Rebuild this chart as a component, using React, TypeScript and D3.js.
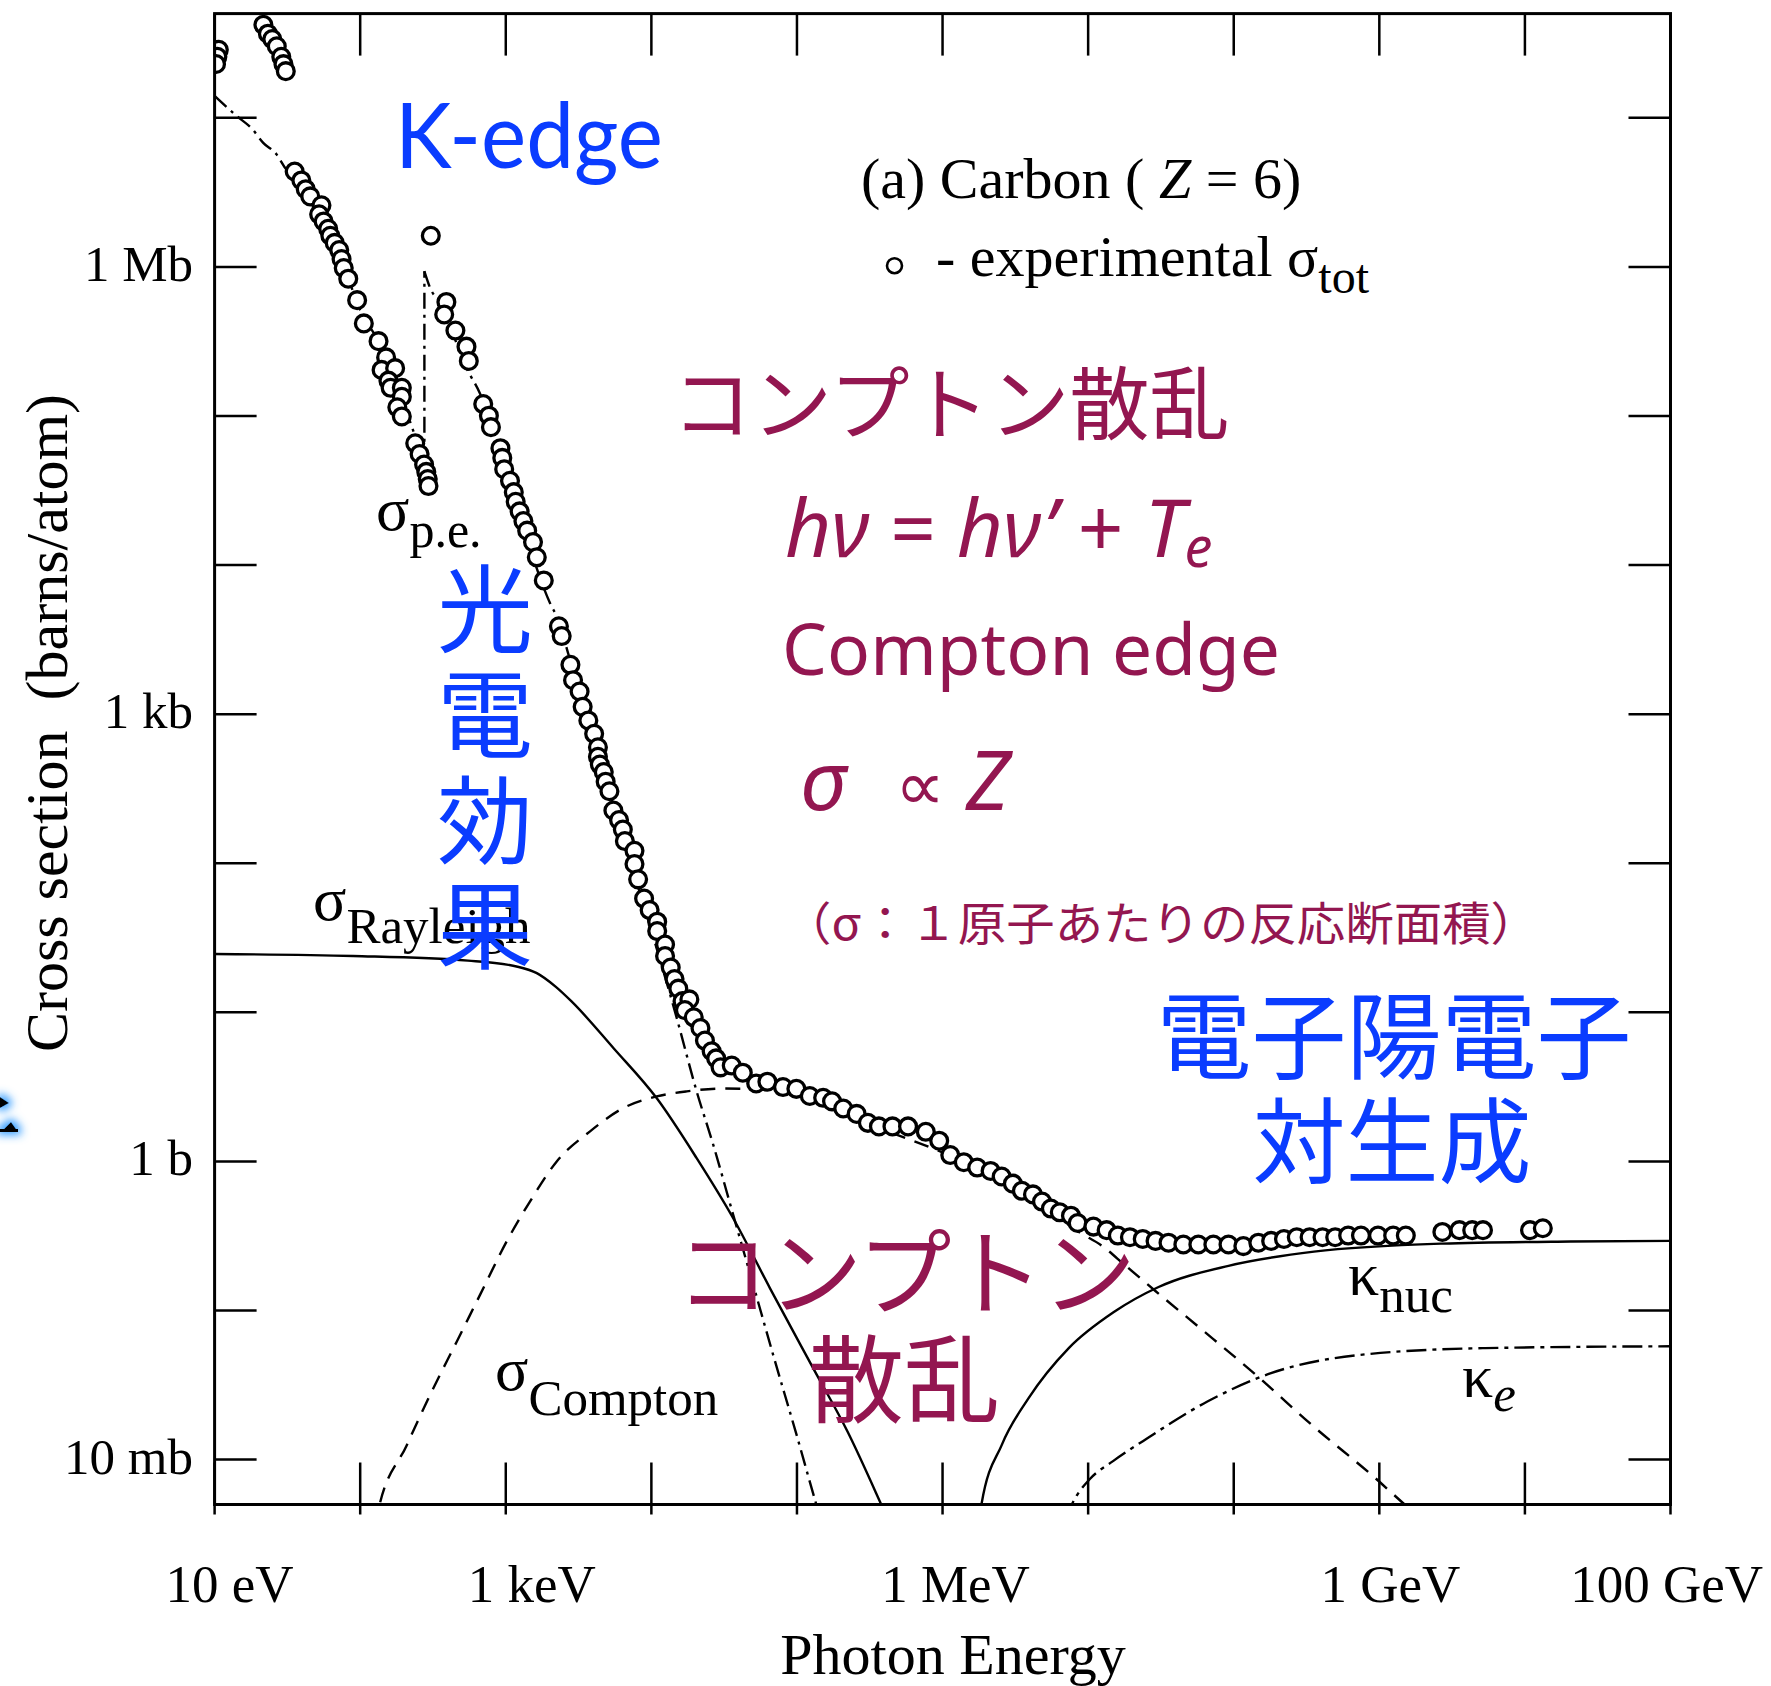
import React from 'react';
import * as d3 from 'd3';

// ---------- layout ----------
const W = 1771;
const H = 1686;
const PL = 214.6, PR = 1670.5, PT = 13.6, PB = 1504.5;
const X_LABEL_NUDGE = [15, 26, 13, 11, 0]; // horizontal offsets of the x tick labels, px

// ---------- axes ----------
const xDomain: [number, number] = [10, 1e11]; // photon energy, eV
const yDomain: [number, number] = [5e-3, 5e7]; // cross section, barns/atom
const xTickValues = [1e1, 1e2, 1e3, 1e4, 1e5, 1e6, 1e7, 1e8, 1e9, 1e10, 1e11];
const yTickValues = [1e-2, 1e-1, 1, 1e1, 1e2, 1e3, 1e4, 1e5, 1e6, 1e7];
const xTickLabels: [number, string][] = [[1e1, '10 eV'], [1e3, '1 keV'], [1e6, '1 MeV'], [1e9, '1 GeV'], [1e11, '100 GeV']];
const yTickLabels: [number, string][] = [[1e6, '1 Mb'], [1e3, '1 kb'], [1, '1 b'], [1e-2, '10 mb']];

// ---------- data: [log10(E / eV), log10(sigma / barn)] ----------
const experimental: [number, number][] = [
  [1.029, 7.456], [1.019, 7.409], [1.010, 7.361],
  [1.335, 7.624], [1.366, 7.564], [1.396, 7.528], [1.427, 7.480], [1.458, 7.409], [1.473, 7.360], [1.489, 7.313],
  [1.550, 6.640], [1.596, 6.580], [1.626, 6.521], [1.657, 6.473], [1.734, 6.413], [1.718, 6.353], [1.749, 6.305],
  [1.780, 6.256], [1.795, 6.209], [1.825, 6.161], [1.856, 6.113], [1.872, 6.053], [1.887, 5.992], [1.918, 5.921],
  [1.979, 5.777], [2.025, 5.621], [2.126, 5.502], [2.178, 5.393], [2.147, 5.309], [2.240, 5.321], [2.194, 5.237],
  [2.209, 5.189], [2.286, 5.189], [2.286, 5.129], [2.255, 5.058], [2.286, 4.997], [2.378, 4.817], [2.408, 4.745],
  [2.439, 4.674], [2.454, 4.625], [2.464, 4.577], [2.469, 4.530],
  [2.485, 6.209], [2.592, 5.765], [2.577, 5.681], [2.654, 5.573], [2.730, 5.465], [2.746, 5.369], [2.845, 5.080],
  [2.884, 5.002], [2.898, 4.925], [2.963, 4.784], [2.976, 4.719], [2.989, 4.643], [3.029, 4.565], [3.055, 4.489],
  [3.068, 4.424], [3.095, 4.360], [3.121, 4.295], [3.147, 4.231], [3.187, 4.154], [3.213, 4.052], [3.261, 3.897],
  [3.365, 3.589], [3.384, 3.524], [3.444, 3.331], [3.462, 3.228], [3.507, 3.152], [3.528, 3.049], [3.567, 2.958],
  [3.607, 2.868], [3.633, 2.778], [3.633, 2.714], [3.646, 2.662], [3.673, 2.612], [3.686, 2.547], [3.712, 2.483],
  [3.739, 2.354], [3.778, 2.290], [3.804, 2.226], [3.818, 2.149], [3.884, 2.084], [3.884, 1.995], [3.909, 1.892],
  [3.950, 1.763], [3.988, 1.686], [4.040, 1.608], [4.040, 1.545], [4.094, 1.455], [4.094, 1.378], [4.133, 1.300],
  [4.159, 1.223], [4.185, 1.159], [4.214, 1.075], [4.261, 1.087], [4.230, 1.015], [4.291, 0.967], [4.337, 0.895],
  [4.368, 0.811], [4.414, 0.739], [4.445, 0.691], [4.475, 0.631], [4.552, 0.643], [4.628, 0.595], [4.720, 0.523],
  [4.797, 0.535], [4.904, 0.499], [4.996, 0.487], [5.088, 0.439], [5.180, 0.427], [5.241, 0.403], [5.318, 0.355],
  [5.410, 0.319], [5.487, 0.259], [5.563, 0.235], [5.656, 0.235], [5.763, 0.235], [5.885, 0.199], [5.977, 0.139],
  [6.053, 0.043], [6.146, -0.005], [6.238, -0.041], [6.330, -0.064], [6.406, -0.101], [6.483, -0.149], [6.545, -0.197],
  [6.621, -0.221], [6.683, -0.269], [6.744, -0.316], [6.805, -0.341], [6.882, -0.364], [6.928, -0.413], [7.036, -0.437],
  [7.127, -0.461], [7.204, -0.497], [7.287, -0.508], [7.375, -0.520], [7.463, -0.533], [7.552, -0.545], [7.654, -0.557],
  [7.757, -0.557], [7.860, -0.557], [7.964, -0.557], [8.066, -0.568], [8.169, -0.545], [8.257, -0.533], [8.345, -0.520],
  [8.433, -0.508], [8.521, -0.508], [8.610, -0.508], [8.697, -0.508], [8.786, -0.497], [8.874, -0.497], [8.991, -0.497],
  [9.095, -0.497], [9.182, -0.497], [9.433, -0.473], [9.550, -0.461], [9.638, -0.461], [9.712, -0.461],
  [10.035, -0.461], [10.123, -0.448],
];

const photoLow: [number, number][] = [
  [1.0, 7.147], [1.151, 7.013], [1.256, 6.927], [1.334, 6.832], [1.427, 6.753], [1.481, 6.669], [1.551, 6.60],
  [1.70, 6.38], [1.853, 6.10], [2.0, 5.71], [2.125, 5.50], [2.280, 5.13], [2.441, 4.68],
];
const photoHigh: [number, number][] = [
  [2.441, 5.971], [2.485, 5.849], [2.546, 5.765], [2.730, 5.321], [2.822, 5.153], [3.056, 4.454], [3.305, 3.743],
  [3.357, 3.640], [3.436, 3.382], [3.793, 2.215], [4.174, 0.963], [4.311, 0.470], [4.425, 0.112], [4.562, -0.358],
  [4.700, -0.829], [4.837, -1.299], [4.998, -1.836], [5.135, -2.307], [5.17, -2.42],
];
const rayleigh: [number, number][] = [
  [1.0, 1.391], [1.951, 1.378], [2.740, 1.347], [3.081, 1.306], [3.213, 1.263], [3.344, 1.171], [3.45, 1.075],
  [3.739, 0.761], [4.036, 0.425], [4.311, 0.022], [4.562, -0.381], [4.815, -0.851], [5.112, -1.388], [5.348, -1.813],
  [5.585, -2.314], [5.62, -2.39],
];
const compton: [number, number][] = [
  [2.10, -2.45], [2.124, -2.340], [2.320, -1.903], [2.479, -1.568], [2.663, -1.209], [2.823, -0.895], [3.006, -0.537],
  [3.166, -0.269], [3.350, 0.0], [3.579, 0.202], [3.807, 0.358], [4.036, 0.436], [4.243, 0.470], [4.494, 0.489],
  [5.0, 0.47], [5.5, 0.25], [6.0, 0.06], [6.5, -0.17], [6.958, -0.486], [7.082, -0.557], [7.258, -0.700],
  [7.462, -0.869], [7.757, -1.108], [8.168, -1.445], [8.551, -1.780], [8.963, -2.116], [9.168, -2.296], [9.30, -2.41],
];
const kappaNuc: [number, number][] = [
  [6.24, -2.5], [6.268, -2.296], [6.407, -1.901], [6.591, -1.588], [6.867, -1.252], [7.174, -1.012], [7.480, -0.844],
  [7.964, -0.700], [8.551, -0.605], [9.430, -0.551], [10.314, -0.537], [11.003, -0.533],
];
const kappaE: [number, number][] = [
  [6.84, -2.40], [6.916, -2.250], [7.012, -2.130], [7.171, -2.01], [7.376, -1.876], [7.816, -1.612], [8.256, -1.420],
  [8.845, -1.300], [9.726, -1.252], [11.003, -1.240],
];

const MAROON = '#931650';
const BLUE = '#0a3cff';
const SERIF = '"Liberation Serif", "Times New Roman", serif';
const CJK = '"Noto Sans CJK JP", "Noto Sans CJK SC", sans-serif';
const SANS = "'Noto Sans', 'DejaVu Sans', sans-serif";

export default function App() {
  const x = d3.scaleLog().domain(xDomain).range([PL, PR]);
  const y = d3.scaleLog().domain(yDomain).range([PB, PT]);
  const px = (d: [number, number]) => x(Math.pow(10, d[0]));
  const py = (d: [number, number]) => y(Math.pow(10, d[1]));
  const line = d3.line<[number, number]>().x(px).y(py).curve(d3.curveMonotoneX);
  const straight = d3.line<[number, number]>().x(px).y(py);

  const kEdge: [number, number][] = [photoLow[photoLow.length - 1], photoHigh[0]];

  const lineStyle = { fill: 'none', stroke: '#000', strokeWidth: 2.4 } as const;
  const TICK = 42;

  return (
    <div style={{ position: 'absolute', left: 0, top: 0 }}>
      <svg width={W} height={H} viewBox={`0 0 ${W} ${H}`} xmlns="http://www.w3.org/2000/svg">
        <defs>
          <clipPath id="plotClip">
            <rect x={PL} y={PT} width={PR - PL} height={PB - PT} />
          </clipPath>
          <filter id="glow" x="-100%" y="-100%" width="300%" height="300%">
            <feMorphology in="SourceAlpha" operator="dilate" radius="3" result="d" />
            <feGaussianBlur in="d" stdDeviation="4" result="b" />
            <feFlood floodColor="#3aa0ff" result="c" />
            <feComposite in="c" in2="b" operator="in" result="g" />
            <feMerge>
              <feMergeNode in="g" />
              <feMergeNode in="SourceGraphic" />
            </feMerge>
          </filter>
        </defs>
        <rect x={0} y={0} width={W} height={H} fill="#fff" />

        {/* curves */}
        <g clipPath="url(#plotClip)">
          <path d={line(rayleigh) || ''} {...lineStyle} />
          <path d={line(compton) || ''} {...lineStyle} strokeDasharray="15 10" />
          <path d={line(photoLow) || ''} {...lineStyle} strokeDasharray="16 6 3 6" />
          <path d={straight(kEdge) || ''} {...lineStyle} strokeDasharray="16 6 3 6" />
          <path d={line(photoHigh) || ''} {...lineStyle} strokeDasharray="16 6 3 6" />
          <path d={line(kappaNuc) || ''} {...lineStyle} />
          <path d={line(kappaE) || ''} {...lineStyle} strokeDasharray="20 6 4 6" />
        </g>

        {/* experimental points */}
        <g clipPath="url(#plotClip)">
          {experimental.map((d, i) => (
            <circle key={i} cx={px(d)} cy={py(d)} r={8.4} fill="#fff" stroke="#000" strokeWidth={3.3} />
          ))}
        </g>

        {/* frame and ticks */}
        <rect x={PL} y={PT} width={PR - PL} height={PB - PT} fill="none" stroke="#000" strokeWidth={3} />
        <g stroke="#000" strokeWidth={2.5}>
          {xTickValues.map((v, i) => (
            <g key={'xt' + i}>
              <line x1={x(v)} x2={x(v)} y1={PB + 10} y2={PB - TICK} />
              <line x1={x(v)} x2={x(v)} y1={PT} y2={PT + TICK} />
            </g>
          ))}
          {yTickValues.map((v, i) => (
            <g key={'yt' + i}>
              <line x1={PL} x2={PL + TICK} y1={y(v)} y2={y(v)} />
              <line x1={PR} x2={PR - TICK} y1={y(v)} y2={y(v)} />
            </g>
          ))}
        </g>

        {/* tick labels */}
        <g fontFamily={SERIF} fontSize={53} fill="#000">
          {xTickLabels.map(([v, t], i) => {
            const last = i === xTickLabels.length - 1;
            return (
              <text key={'xl' + i} x={last ? W - 8 : x(v) + X_LABEL_NUDGE[i]} y={1602} textAnchor={last ? 'end' : 'middle'}>{t}</text>
            );
          })}
        </g>
        <g fontFamily={SERIF} fontSize={51} fill="#000">
          {yTickLabels.map(([v, t], i) => (
            <text key={'yl' + i} x={193} y={y(v) + 14} textAnchor="end">{t}</text>
          ))}
        </g>

        {/* axis titles */}
        <text x={953} y={1674} textAnchor="middle" fontFamily={SERIF} fontSize={58}>Photon Energy</text>
        <text transform="translate(67,723) rotate(-90)" textAnchor="middle" fontFamily={SERIF} fontSize={60}
          style={{ whiteSpace: 'pre' }}>{'Cross section  (barns/atom)'}</text>

        {/* legend */}
        <text x={861} y={198} fontFamily={SERIF} fontSize={58} style={{ whiteSpace: 'pre' }}>
          {'(a) Carbon ( '}<tspan fontStyle="italic">Z</tspan>{' = 6)'}
        </text>
        <circle cx={894.5} cy={265.7} r={7.5} fill="#fff" stroke="#000" strokeWidth={2.6} />
        <text x={936} y={276} fontFamily={SERIF} fontSize={58}>
          - experimental σ<tspan fontSize={48} dy={17}>tot</tspan>
        </text>

        {/* curve labels */}
        <text x={376} y={530} fontFamily={SERIF} fontSize={62}>σ<tspan fontSize={50} dy={17}>p.e.</tspan></text>
        <text x={313} y={920} fontFamily={SERIF} fontSize={62}>σ<tspan fontSize={51} dy={23}>Rayleigh</tspan></text>
        <text x={495} y={1390} fontFamily={SERIF} fontSize={62}>σ<tspan fontSize={51} dy={25}>Compton</tspan></text>
        <text x={1348} y={1295} fontFamily={SERIF} fontSize={62}>κ<tspan fontSize={51} dy={17}>nuc</tspan></text>
        <text x={1462} y={1397} fontFamily={SERIF} fontSize={62}>κ<tspan fontSize={51} dy={14} fontStyle="italic">e</tspan></text>

        {/* annotations */}
        <text x={395} y={168} fontFamily="Lato, 'Open Sans', sans-serif" fontSize={92} fill={BLUE}
          textLength={268} lengthAdjust="spacingAndGlyphs">K-edge</text>

        <text x={672} y={398} dominantBaseline="central" fontFamily={CJK} fontSize={80} fill={MAROON}>コンプトン散乱</text>
        <text x={785} y={557} fontFamily={SANS} fontSize={80} fill={MAROON} style={{ whiteSpace: 'pre' }}>
          <tspan fontStyle="italic">hν</tspan>{' = '}<tspan fontStyle="italic">hν’</tspan>{' + '}
          <tspan fontStyle="italic">T</tspan><tspan fontSize={56} dy={10} fontStyle="italic">e</tspan>
        </text>
        <text x={782} y={675} fontFamily={SANS} fontSize={72} fill={MAROON}
          textLength={498} lengthAdjust="spacingAndGlyphs">Compton edge</text>
        <text y={810} fontFamily={SANS} fontSize={82} fill={MAROON}>
          <tspan x={800} fontStyle="italic">σ</tspan>
          <tspan x={895} fontSize={70}>∝</tspan>
          <tspan x={966} fontStyle="italic">Z</tspan>
        </text>
        <text x={783} y={920} dominantBaseline="central" fontFamily={CJK} fontSize={46} fill={MAROON}
          textLength={756} lengthAdjust="spacingAndGlyphs">（σ：１原子あたりの反応断面積）</text>

        {['光', '電', '効', '果'].map((c, i) => (
          <text key={'v' + i} x={485} y={603 + i * 105.5} textAnchor="middle" dominantBaseline="central"
            fontFamily={CJK} fontSize={96} fill={BLUE}>{c}</text>
        ))}
        <text x={1394} y={1030} textAnchor="middle" dominantBaseline="central" fontFamily={CJK} fontSize={95} fill={BLUE}>電子陽電子</text>
        <text x={1392} y={1135} textAnchor="middle" dominantBaseline="central" fontFamily={CJK} fontSize={93} fill={BLUE}>対生成</text>

        <text x={676} y={1267} dominantBaseline="central" fontFamily={CJK} fontSize={94} fill={MAROON}
          textLength={460} lengthAdjust="spacing">コンプトン</text>
        <text x={808} y={1373} dominantBaseline="central" fontFamily={CJK} fontSize={96} fill={MAROON}>散乱</text>

        {/* clipped glyph at left edge */}
        <g filter="url(#glow)">
          <path d="M0,1097 L9,1103 L0,1108 Z" fill="#000" />
          <path d="M0,1129 L18,1129 L18,1132 L0,1132 Z M4,1129 L11,1122 L16,1129 Z" fill="#000" />
        </g>
      </svg>
    </div>
  );
}
